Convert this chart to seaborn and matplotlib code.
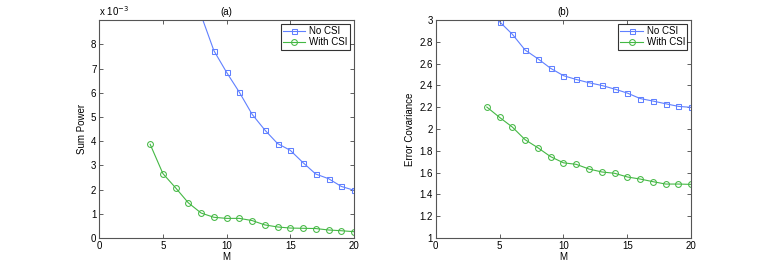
import numpy as np
import matplotlib
matplotlib.use('Agg')
import matplotlib.pyplot as plt
import seaborn as sns
import pandas as pd

# (a) sum power, in units of 1e-3
m_no_a = [8, 9, 10, 11, 12, 13, 14, 15, 16, 17, 18, 19, 20]
p_no_csi = [9.2, 7.74, 6.84, 6.02, 5.11, 4.46, 3.9, 3.62, 3.11, 2.64, 2.45, 2.13, 1.97]
m_with = list(range(4, 21))
p_with_csi = [3.87, 2.66, 2.07, 1.45, 1.03, 0.855, 0.81, 0.81, 0.72, 0.54, 0.455,
              0.41, 0.40, 0.39, 0.33, 0.30, 0.26]

# (b) error covariance
m_all = list(range(4, 21))
e_no_csi = [3.1, 2.985, 2.87, 2.725, 2.645, 2.557, 2.49, 2.455, 2.425, 2.40, 2.367,
            2.33, 2.28, 2.257, 2.232, 2.208, 2.199]
e_with_csi = [2.202, 2.107, 2.018, 1.902, 1.828, 1.746, 1.69, 1.676, 1.633, 1.606,
              1.594, 1.56, 1.541, 1.517, 1.495, 1.495, 1.492]

blue = '#6080ff'
green = '#44b844'
plt.rcParams['font.size'] = 7
plt.rcParams['font.family'] = ['Liberation Sans', 'DejaVu Sans']

fig = plt.figure(figsize=(7.63, 2.68), dpi=100)
ax1 = fig.add_axes([0.130, 0.112, 0.334, 0.813])
ax2 = fig.add_axes([0.571, 0.112, 0.335, 0.813])


def draw(ax, x1, y1, x2, y2):
    sns.lineplot(x=x1, y=y1, ax=ax, color=blue, marker='s', markersize=3.6,
                 markerfacecolor='none', markeredgecolor=blue, linewidth=0.8,
                 label='No CSI')
    sns.lineplot(x=x2, y=y2, ax=ax, color=green, marker='o', markersize=4.2,
                 markerfacecolor='none', markeredgecolor=green, linewidth=0.8,
                 label='With CSI')
    ax.set_xlim(0, 20)
    ax.set_xticks([0, 5, 10, 15, 20])
    ax.set_xlabel('M', labelpad=1)
    ax.tick_params(direction='in', top=True, right=True, length=3, width=0.6,
                   labelsize=7, color='#444', pad=2)
    for s in ax.spines.values():
        s.set_color('#555')
        s.set_linewidth(0.8)
    leg = ax.legend(loc='upper right', fontsize=7, frameon=True, fancybox=False,
                    borderpad=0.25, labelspacing=0.1, handlelength=2.3,
                    handletextpad=0.4, borderaxespad=0.4)
    leg.get_frame().set_edgecolor('black')
    leg.get_frame().set_linewidth(0.8)


draw(ax1, m_no_a, p_no_csi, m_with, p_with_csi)
ax1.set_ylim(0, 9)
ax1.set_yticks(range(0, 9))
ax1.set_ylabel('Sum Power', labelpad=3)
ax1.set_title('(a)', fontsize=7, pad=4)
ax1.text(0, 1.01, r'x 10$^{-3}$', transform=ax1.transAxes, fontsize=7,
         va='bottom', ha='left')

draw(ax2, m_all, e_no_csi, m_all, e_with_csi)
ax2.set_ylim(1, 3)
ax2.set_yticks(np.arange(1, 3.01, 0.2))
ax2.set_yticklabels(['1', '1.2', '1.4', '1.6', '1.8', '2', '2.2', '2.4', '2.6', '2.8', '3'])
ax2.set_ylabel('Error Covariance', labelpad=3)
ax2.set_title('(b)', fontsize=7, pad=4)

fig.savefig('out.png', dpi=100)
